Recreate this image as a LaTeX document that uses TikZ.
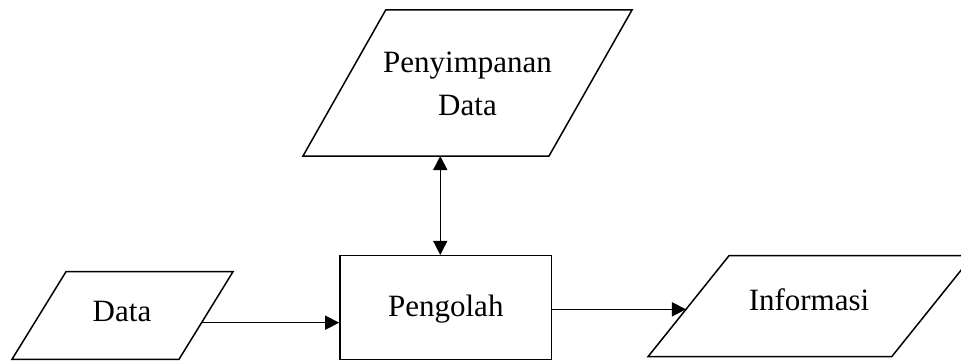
\documentclass[tikz,border=0pt]{standalone}
\usepackage{fontspec}
\setmainfont{Liberation Serif}
\usetikzlibrary{arrows.meta,calc}
\begin{document}
\begin{tikzpicture}[x=1pt,y=-1pt,
  line/.style={line width=1.5pt, draw=black},
  arr/.style={line, -{Triangle[length=14pt,width=14pt]}},
  darr/.style={line, {Triangle[length=14pt,width=14pt]}-{Triangle[length=14pt,width=14pt]}},
  lbl/.style={font=\fontsize{31}{42.7}\selectfont, inner sep=0pt},
  procbox/.style={line, rectangle, minimum width=211.7pt, minimum height=103.6pt,
    inner sep=0pt, font=\fontsize{31}{42.7}\selectfont, text height=21pt, text depth=2.6pt}]
\useasboundingbox (0,0) rectangle (961,361);
\clip (0,0) rectangle (961,361);
% storage parallelogram
\coordinate (sBL) at (303,156);
\coordinate (sBR) at (549,156);
\coordinate (sTR) at (632,10);
\coordinate (sTL) at (385.7,10);
\draw[line] (sBL) -- (sBR) -- (sTR) -- (sTL) -- cycle;
\node[lbl, align=center] (storetext) at (467.5,84) {Penyimpanan\\Data};
% data parallelogram
\coordinate (dBL) at (12,359.3);
\coordinate (dBR) at (179,359.3);
\coordinate (dTR) at (233,271.7);
\coordinate (dTL) at (66,271.7);
\draw[line] (dBL) -- (dBR) -- (dTR) -- (dTL) -- cycle;
\node[lbl, anchor=base] (datatext) at (122,321.7) {Data};
% process box
\node[procbox] (proc) at (445.8,307.5) {Pengolah};
% info parallelogram
\coordinate (iBL) at (648,356.7);
\coordinate (iBR) at (891.7,356.7);
\coordinate (iTR) at (972.7,255.7);
\coordinate (iTL) at (729,255.7);
\draw[line] (iBL) -- (iBR) -- (iTR) -- (iTL) -- cycle;
\node[lbl, anchor=base] (infotext) at (809,310) {Informasi};
% connector points
\coordinate (dOut) at ($(dTR)!0.582!(dBR)$);
\coordinate (iIn) at ($(iTL)!0.531!(iBL)$);
\coordinate (sOut) at ($(sBL)!0.558!(sBR)$);
% connectors
\draw[arr] (dOut) -- (dOut -| proc.west);
\draw[arr] (iIn -| proc.east) -- (iIn);
\draw[darr] (sOut) -- (sOut |- proc.north);
\end{tikzpicture}
\end{document}
